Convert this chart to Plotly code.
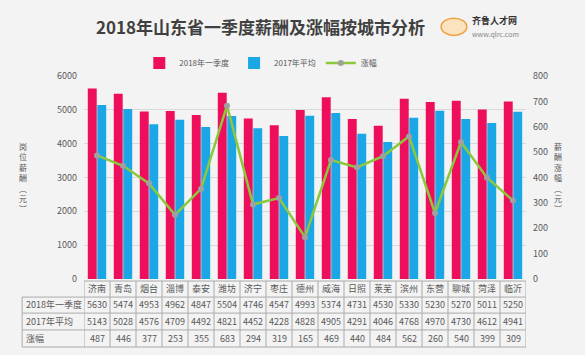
import plotly.graph_objects as go

cities = ["济南", "青岛", "烟台", "淄博", "泰安", "潍坊", "济宁", "枣庄", "德州", "威海",
          "日照", "莱芜", "滨州", "东营", "聊城", "菏泽", "临沂"]
salary_2018q1 = [5630, 5474, 4953, 4962, 4847, 5504, 4746, 4547, 4993, 5374,
                 4731, 4530, 5330, 5230, 5270, 5011, 5250]
salary_2017avg = [5143, 5028, 4576, 4709, 4492, 4821, 4452, 4228, 4828, 4905,
                  4291, 4046, 4768, 4970, 4730, 4612, 4941]
growth = [487, 446, 377, 253, 355, 683, 294, 319, 165, 469,
          440, 484, 562, 260, 540, 399, 309]
row_labels = ["2018年一季度", "2017年平均", "涨幅"]
left_ticks = [0, 1000, 2000, 3000, 4000, 5000, 6000]
right_ticks = [0, 100, 200, 300, 400, 500, 600, 700, 800]

RED = "#EE0F5C"
BLUE = "#1BA6E6"
GREEN = "#8CC83C"
TXT = "#595959"
BG = "#F3F3F3"

fig = go.Figure()
fig.add_trace(go.Bar(x=cities, y=salary_2018q1, name="2018年一季度", marker_color=RED,
                     marker_line_width=0))
fig.add_trace(go.Bar(x=cities, y=salary_2017avg, name="2017年平均", marker_color=BLUE,
                     marker_line_width=0))
fig.add_trace(go.Scatter(x=cities, y=growth, name="涨幅", yaxis="y2", mode="lines+markers",
                         line=dict(color=GREEN, width=2.5),
                         marker=dict(color="#A0A0A0", size=6)))

# table geometry (paper coordinates, plot area spans y 0..1)
line_y = [-0.01, -0.089, -0.168, -0.251, -0.335]
text_y = [-0.049, -0.128, -0.209, -0.291]
left_x = -0.140

shapes = []
shapes.append(dict(type="line", xref="paper", yref="paper", x0=0, x1=1, y0=line_y[0], y1=line_y[0],
                   line=dict(color="#AAAAAA", width=1)))
for yy in line_y[1:]:
    shapes.append(dict(type="line", xref="paper", yref="paper", x0=left_x, x1=1, y0=yy, y1=yy,
                       line=dict(color="#AAAAAA", width=1)))
for i in range(len(cities) + 1):
    shapes.append(dict(type="line", xref="x", yref="paper", x0=i - 0.5, x1=i - 0.5,
                       y0=line_y[0], y1=line_y[-1], line=dict(color="#AAAAAA", width=1)))
shapes.append(dict(type="line", xref="paper", yref="paper", x0=left_x, x1=left_x,
                   y0=line_y[1], y1=line_y[-1], line=dict(color="#AAAAAA", width=1)))

annotations = []
for i, c in enumerate(cities):
    annotations.append(dict(x=c, xref="x", y=text_y[0], yref="paper", text=c, showarrow=False,
                            xanchor="center", yanchor="middle",
                            font=dict(size=9, color=TXT)))
    for r, arr in enumerate([salary_2018q1, salary_2017avg, growth]):
        annotations.append(dict(x=c, xref="x", y=text_y[r + 1], yref="paper", text=str(arr[i]),
                                showarrow=False, xanchor="center", yanchor="middle",
                                font=dict(size=9, color=TXT)))
for r, lab in enumerate(row_labels):
    annotations.append(dict(x=left_x + 0.004, xref="paper", y=text_y[r + 1], yref="paper",
                            text=lab, showarrow=False, xanchor="left", yanchor="middle",
                            font=dict(size=9, color=TXT)))

# vertical axis titles (stacked upright characters)
annotations.append(dict(x=-0.137, xref="paper", y=0.50, yref="paper",
                        text="<br>".join(list("岗位薪酬︵元︶")), showarrow=False,
                        xanchor="center", yanchor="middle",
                        font=dict(size=8, color=TXT), align="center"))
annotations.append(dict(x=1.072, xref="paper", y=0.50, yref="paper",
                        text="<br>".join(list("薪酬涨幅︵元︶")), showarrow=False,
                        xanchor="center", yanchor="middle",
                        font=dict(size=8, color=TXT), align="center"))

# title and logo
annotations.append(dict(x=0.40, xref="paper", y=1.245, yref="paper",
                        text="<b>2018年山东省一季度薪酬及涨幅按城市分析</b>", showarrow=False,
                        font=dict(size=17, color="#404040"), xanchor="center", yanchor="middle"))
annotations.append(dict(x=0.873, xref="paper", y=1.272, yref="paper",
                        text="<b>齐鲁人才网</b>", showarrow=False, xanchor="left", yanchor="middle",
                        font=dict(size=9, color="#333333")))
annotations.append(dict(x=0.873, xref="paper", y=1.208, yref="paper",
                        text="www.qlrc.com", showarrow=False, xanchor="left", yanchor="middle",
                        font=dict(size=7, color="#888888")))
shapes.append(dict(type="circle", xref="paper", yref="paper", x0=0.808, x1=0.866,
                   y0=1.200, y1=1.285, line=dict(color="#F0A040", width=1.5),
                   fillcolor="#FBE3C0"))

fig.update_layout(
    width=585, height=355,
    margin=dict(l=84, r=59, t=76, b=76),
    paper_bgcolor=BG, plot_bgcolor=BG,
    barmode="group", bargap=0.27, bargroupgap=0.06,
    font=dict(family="Noto Sans CJK SC, Noto Sans, sans-serif", color=TXT),
    showlegend=True,
    legend=dict(orientation="h", x=0.40, xanchor="center", y=1.064, yanchor="middle",
                font=dict(size=8, color=TXT), bgcolor="rgba(0,0,0,0)",
                itemwidth=30, traceorder="normal", tracegroupgap=0),
    xaxis=dict(range=[-0.5, len(cities) - 0.5], showticklabels=False, showgrid=False,
               zeroline=False, showline=False, ticks=""),
    yaxis=dict(range=[0, 6000], tickvals=left_ticks, showgrid=True, gridcolor="#DADADA",
               gridwidth=1, zeroline=False, showline=False, tickfont=dict(size=9, color=TXT),
               ticks="", ticklabelstandoff=6),
    yaxis2=dict(range=[0, 800], tickvals=right_ticks, overlaying="y", side="right",
                showgrid=False, zeroline=False, showline=False,
                tickfont=dict(size=9, color=TXT), ticks="", ticklabelstandoff=6),
    shapes=shapes,
    annotations=annotations,
)

fig.write_html("out.html")
